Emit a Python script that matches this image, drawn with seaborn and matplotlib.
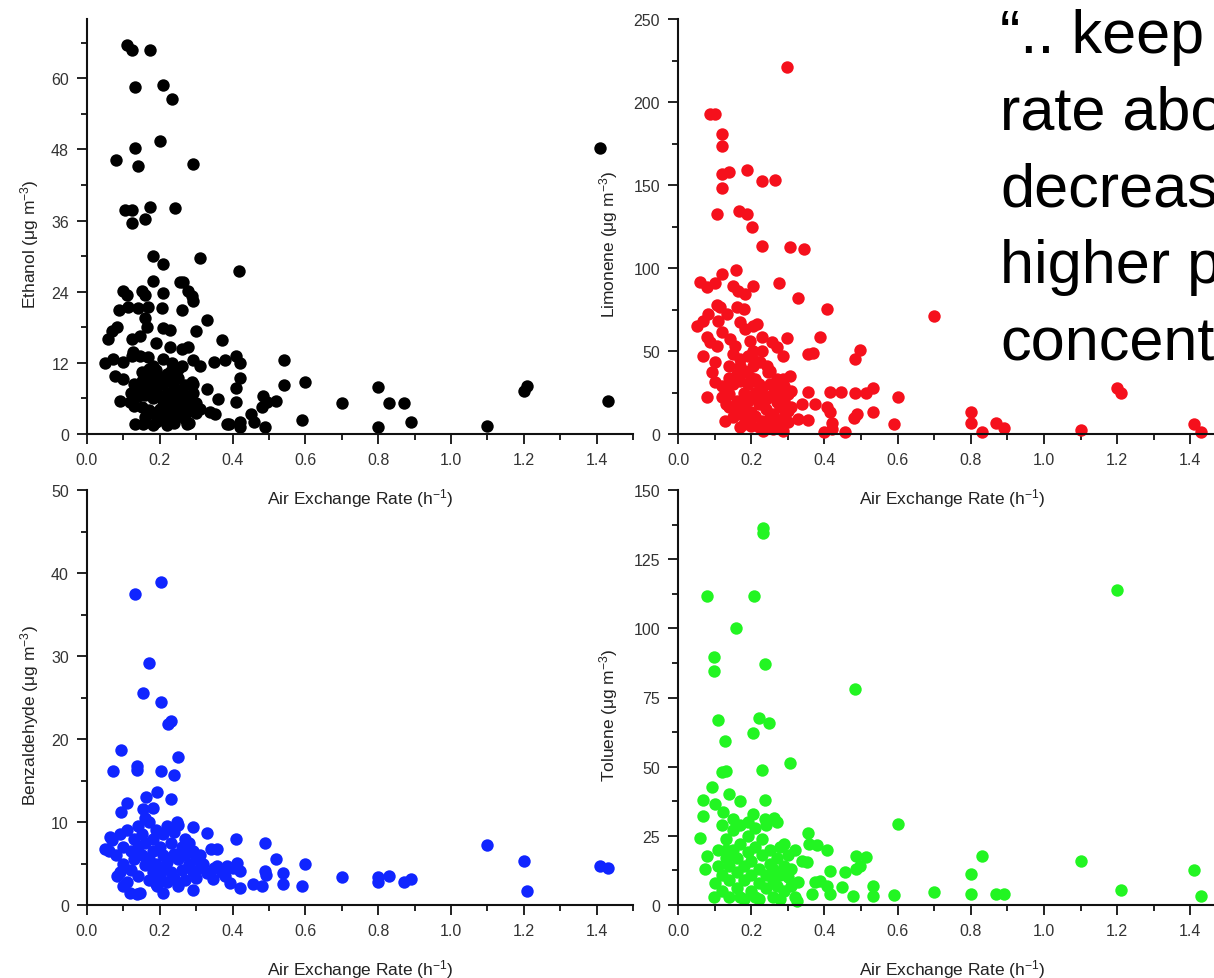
import seaborn as sns
import matplotlib.pyplot as plt
import pandas as pd
from matplotlib.ticker import MultipleLocator, FormatStrFormatter

# DATA
# homes with a high air exchange rate, same x in all four panels
far_aer = [0.59, 0.60, 0.70, 0.80, 0.80, 0.83, 0.87, 0.89, 1.10, 1.20, 1.21, 1.41, 1.43]

ethanol_far = [2.4, 8.8, 5.3, 8.0, 1.2, 5.3, 5.3, 2.1, 1.4, 7.3, 8.1, 48.3, 5.6]
limonene_far = [6.0, 22.0, 71.0, 13.0, 6.6, 1.2, 6.6, 3.6, 2.4, 28.0, 25.0, 6.0, 1.2]
benzaldehyde_far = [2.3, 4.9, 3.4, 3.4, 2.8, 3.5, 2.8, 3.1, 7.2, 5.3, 1.7, 4.7, 4.5]
toluene_far = [3.5, 29.3, 4.7, 11.2, 4.0, 17.7, 4.0, 4.0, 15.9, 113.8, 5.4, 12.7, 3.2]

# the main cloud of homes, (air exchange rate, concentration)
ethanol_pts = [
    (0.11, 65.6), (0.123, 64.7), (0.173, 64.7), (0.132, 58.6), (0.209, 58.8), (0.233, 56.5),
    (0.20, 49.5), (0.132, 48.2), (0.08, 46.2), (0.14, 45.2), (0.29, 45.6), (0.104, 37.8),
    (0.123, 37.8), (0.173, 38.3), (0.241, 38.1), (0.123, 35.6), (0.159, 36.3), (0.182, 30.0),
    (0.31, 29.7), (0.209, 28.7), (0.418, 27.5), (0.182, 25.8), (0.255, 25.6), (0.264, 25.6),
    (0.10, 24.1), (0.11, 23.4), (0.15, 24.2), (0.159, 23.4), (0.209, 23.7), (0.278, 24.1),
    (0.288, 23.2), (0.29, 22.5), (0.088, 21.0), (0.113, 21.5), (0.14, 21.3), (0.167, 21.5),
    (0.206, 21.2), (0.26, 21.0), (0.329, 19.2), (0.082, 18.1), (0.068, 17.3), (0.058, 16.1),
    (0.159, 19.5), (0.165, 18.1), (0.209, 17.8), (0.228, 17.5), (0.30, 17.3), (0.123, 16.1),
    (0.145, 16.6), (0.37, 15.9), (0.19, 15.3), (0.228, 14.7), (0.26, 14.4), (0.278, 14.7),
    (0.127, 13.9), (0.05, 11.9), (0.072, 12.7), (0.10, 12.2), (0.123, 13.2), (0.145, 13.2),
    (0.167, 13.0), (0.182, 11.5), (0.209, 12.7), (0.233, 11.9), (0.26, 11.5), (0.29, 12.4),
    (0.31, 11.4), (0.35, 12.2), (0.38, 12.5), (0.41, 13.2), (0.42, 11.9), (0.54, 12.5),
    (0.077, 9.7), (0.10, 9.3), (0.42, 9.5), (0.288, 8.8), (0.54, 8.3), (0.329, 7.6),
    (0.41, 7.8), (0.09, 5.6), (0.118, 5.4), (0.14, 6.4), (0.165, 7.1), (0.36, 5.9),
    (0.41, 5.4), (0.338, 3.7), (0.352, 3.4), (0.483, 6.4), (0.494, 5.4), (0.48, 4.6),
    (0.52, 5.6), (0.45, 3.4), (0.46, 2.0), (0.49, 1.2), (0.384, 1.7), (0.39, 1.7),
    (0.42, 2.0), (0.42, 1.2), (0.132, 1.7), (0.154, 1.7), (0.182, 1.5), (0.19, 2.0),
    (0.22, 1.5), (0.24, 1.9), (0.274, 1.7), (0.13, 8.5), (0.15, 9.0), (0.16, 8.0),
    (0.17, 9.5), (0.18, 8.2), (0.19, 10.0), (0.20, 9.0), (0.21, 8.5), (0.22, 10.2),
    (0.23, 9.0), (0.24, 8.0), (0.25, 9.4), (0.26, 7.5), (0.27, 8.3), (0.12, 7.0),
    (0.14, 7.6), (0.16, 6.5), (0.18, 6.0), (0.19, 7.2), (0.20, 6.2), (0.21, 5.5),
    (0.22, 7.0), (0.23, 6.3), (0.24, 5.2), (0.25, 6.8), (0.26, 5.0), (0.27, 6.0),
    (0.28, 5.5), (0.29, 7.0), (0.30, 5.2), (0.13, 4.8), (0.15, 4.5), (0.17, 4.0),
    (0.18, 3.5), (0.20, 4.2), (0.21, 3.0), (0.22, 4.5), (0.23, 3.4), (0.24, 2.8),
    (0.25, 4.0), (0.26, 3.0), (0.27, 2.5), (0.28, 3.8), (0.30, 3.5), (0.31, 4.2),
    (0.19, 10.8), (0.17, 11.0), (0.15, 10.5), (0.23, 10.6), (0.25, 11.0), (0.21, 2.4),
    (0.16, 2.8), (0.28, 1.9), (0.29, 8.5),
]

limonene_pts = [
    (0.297, 220.9), (0.088, 192.8), (0.101, 192.8), (0.119, 180.7), (0.119, 173.7),
    (0.119, 156.6), (0.138, 157.6), (0.188, 159.2), (0.119, 148.0), (0.229, 152.6),
    (0.265, 153.2), (0.106, 132.5), (0.168, 134.5), (0.188, 132.5), (0.202, 124.5),
    (0.229, 113.4), (0.306, 112.4), (0.345, 111.4), (0.159, 99.0), (0.119, 96.4),
    (0.06, 91.8), (0.078, 88.4), (0.101, 91.0), (0.151, 89.3), (0.165, 86.3), (0.183, 84.3),
    (0.206, 89.0), (0.277, 91.0), (0.329, 81.7), (0.407, 75.3), (0.106, 77.7), (0.115, 76.3),
    (0.16, 76.3), (0.18, 75.3), (0.051, 65.2), (0.069, 68.3), (0.083, 72.3), (0.133, 72.3),
    (0.11, 68.3), (0.119, 61.3), (0.17, 67.3), (0.183, 63.3), (0.206, 65.2), (0.215, 66.3),
    (0.078, 58.3), (0.088, 55.2), (0.106, 53.2), (0.069, 47.2), (0.142, 57.2), (0.156, 53.2),
    (0.197, 56.2), (0.206, 50.2), (0.229, 58.3), (0.256, 55.2), (0.27, 52.2), (0.288, 47.2),
    (0.297, 57.6), (0.388, 58.3), (0.356, 48.2), (0.368, 48.8), (0.484, 45.2), (0.496, 50.8),
    (0.101, 43.2), (0.092, 37.2), (0.101, 31.1), (0.138, 41.1), (0.17, 41.1), (0.188, 37.2),
    (0.206, 41.1), (0.224, 43.2), (0.242, 41.1), (0.247, 37.2), (0.306, 35.1), (0.288, 33.1),
    (0.078, 22.1), (0.356, 25.5), (0.416, 25.5), (0.445, 25.1), (0.484, 24.5), (0.514, 24.5),
    (0.534, 27.5), (0.338, 18.1), (0.375, 18.1), (0.407, 16.1), (0.416, 13.0), (0.489, 12.0),
    (0.48, 9.4), (0.534, 13.0), (0.329, 9.0), (0.356, 8.6), (0.42, 6.6), (0.42, 3.0),
    (0.457, 1.4), (0.40, 1.0), (0.128, 8.0), (0.17, 4.0), (0.233, 2.0), (0.288, 2.0),
    (0.13, 28.0), (0.15, 30.0), (0.17, 32.0), (0.19, 30.0), (0.21, 33.0), (0.23, 28.0),
    (0.25, 30.0), (0.27, 27.0), (0.29, 29.0), (0.30, 24.0), (0.12, 22.0), (0.14, 24.0),
    (0.16, 20.0), (0.18, 25.0), (0.20, 22.0), (0.22, 26.0), (0.24, 21.0), (0.26, 24.0),
    (0.28, 22.0), (0.14, 16.0), (0.16, 14.0), (0.18, 17.0), (0.20, 13.0), (0.22, 18.0),
    (0.24, 15.0), (0.26, 12.0), (0.28, 16.0), (0.30, 14.0), (0.15, 10.0), (0.17, 12.0),
    (0.19, 9.0), (0.21, 11.0), (0.23, 8.0), (0.25, 10.0), (0.27, 7.0), (0.29, 10.0),
    (0.18, 6.0), (0.20, 5.0), (0.22, 4.0), (0.24, 6.0), (0.26, 3.0), (0.28, 5.0),
    (0.30, 7.0), (0.31, 16.0), (0.31, 26.0), (0.13, 18.0), (0.16, 36.0), (0.18, 38.0),
    (0.20, 34.0), (0.22, 30.0), (0.17, 45.0), (0.19, 47.0), (0.21, 44.0), (0.23, 50.0),
    (0.15, 48.0), (0.25, 38.0), (0.27, 33.0), (0.14, 34.0), (0.12, 29.0), (0.19, 20.0),
    (0.21, 25.0), (0.23, 19.0), (0.25, 23.0), (0.27, 19.0), (0.29, 20.0),
]

benzaldehyde_pts = [
    (0.202, 38.9), (0.132, 37.5), (0.171, 29.2), (0.153, 25.6), (0.202, 24.5), (0.223, 21.8),
    (0.232, 22.2), (0.093, 18.7), (0.25, 17.8), (0.072, 16.2), (0.138, 16.7), (0.138, 16.3),
    (0.202, 16.2), (0.239, 15.7), (0.191, 13.6), (0.162, 13.0), (0.23, 12.8), (0.111, 12.3),
    (0.093, 11.2), (0.155, 11.6), (0.182, 11.7), (0.246, 10.0), (0.292, 9.4), (0.329, 8.7),
    (0.049, 6.7), (0.063, 8.2), (0.409, 7.9), (0.489, 7.5), (0.342, 6.7), (0.356, 6.7),
    (0.519, 5.5), (0.082, 3.5), (0.10, 2.3), (0.118, 1.5), (0.136, 1.3), (0.145, 1.5),
    (0.191, 2.3), (0.21, 1.5), (0.29, 1.8), (0.356, 4.7), (0.384, 4.7), (0.411, 5.1),
    (0.42, 4.1), (0.393, 2.7), (0.42, 2.1), (0.457, 2.5), (0.48, 2.3), (0.489, 4.1),
    (0.493, 3.6), (0.539, 3.9), (0.539, 2.5), (0.347, 3.1), (0.08, 6.0), (0.09, 8.5),
    (0.10, 7.0), (0.10, 5.0), (0.11, 9.0), (0.12, 6.5), (0.12, 4.2), (0.13, 8.0),
    (0.13, 5.5), (0.14, 9.5), (0.14, 7.0), (0.14, 3.5), (0.15, 6.0), (0.15, 8.5),
    (0.16, 4.8), (0.16, 7.5), (0.17, 10.0), (0.17, 5.5), (0.17, 3.0), (0.18, 8.0),
    (0.18, 6.5), (0.18, 4.0), (0.19, 9.0), (0.19, 5.0), (0.20, 7.0), (0.20, 3.5),
    (0.21, 8.5), (0.21, 6.0), (0.21, 4.5), (0.22, 9.5), (0.22, 5.2), (0.22, 2.8),
    (0.23, 7.5), (0.23, 4.0), (0.24, 8.8), (0.24, 6.2), (0.24, 3.2), (0.25, 5.5),
    (0.25, 9.6), (0.26, 7.0), (0.26, 4.2), (0.27, 6.0), (0.27, 8.0), (0.27, 3.0),
    (0.28, 5.0), (0.28, 7.5), (0.29, 4.0), (0.29, 6.5), (0.30, 5.5), (0.30, 3.2),
    (0.31, 6.0), (0.31, 4.5), (0.32, 5.0), (0.33, 3.8), (0.35, 4.5), (0.37, 4.0),
    (0.38, 3.5), (0.40, 4.5), (0.06, 6.5), (0.07, 7.8), (0.09, 4.0), (0.11, 2.8),
    (0.16, 10.5), (0.19, 2.5), (0.25, 2.3),
]

toluene_pts = [
    (0.232, 136.1), (0.232, 134.4), (0.078, 111.8), (0.208, 111.8), (0.159, 100.0),
    (0.098, 89.5), (0.098, 84.5), (0.238, 87.1), (0.484, 78.1), (0.11, 67.0), (0.22, 67.5),
    (0.249, 65.7), (0.206, 62.2), (0.129, 59.4), (0.306, 51.2), (0.119, 48.0), (0.131, 48.5),
    (0.229, 48.9), (0.092, 42.5), (0.14, 40.1), (0.069, 38.1), (0.068, 32.3), (0.17, 37.7),
    (0.238, 37.9), (0.101, 36.5), (0.122, 33.5), (0.206, 32.9), (0.238, 31.1), (0.261, 31.3),
    (0.06, 24.1), (0.356, 26.0), (0.359, 22.0), (0.379, 21.7), (0.407, 19.9), (0.08, 17.6),
    (0.487, 17.8), (0.514, 17.2), (0.338, 16.0), (0.352, 15.4), (0.416, 12.4), (0.457, 12.0),
    (0.487, 13.0), (0.498, 14.2), (0.074, 13.0), (0.375, 8.2), (0.388, 8.8), (0.366, 4.0),
    (0.448, 6.4), (0.407, 7.0), (0.416, 4.0), (0.478, 3.4), (0.534, 6.8), (0.534, 3.4),
    (0.325, 1.6), (0.097, 2.8), (0.329, 8.2), (0.10, 8.0), (0.11, 14.0), (0.11, 20.0),
    (0.12, 5.0), (0.12, 11.0), (0.13, 17.0), (0.13, 24.0), (0.14, 3.0), (0.14, 9.0),
    (0.14, 14.0), (0.15, 20.0), (0.15, 27.0), (0.16, 6.0), (0.16, 12.0), (0.16, 17.0),
    (0.17, 22.0), (0.17, 29.0), (0.18, 2.0), (0.18, 9.0), (0.18, 14.0), (0.19, 19.0),
    (0.19, 25.0), (0.20, 5.0), (0.20, 11.0), (0.20, 16.0), (0.21, 21.0), (0.21, 28.0),
    (0.22, 2.0), (0.22, 8.0), (0.22, 13.0), (0.23, 18.0), (0.23, 24.0), (0.24, 6.0),
    (0.24, 11.0), (0.25, 15.0), (0.25, 20.0), (0.26, 3.0), (0.26, 9.0), (0.26, 13.0),
    (0.27, 17.0), (0.27, 7.0), (0.28, 11.0), (0.28, 21.0), (0.28, 2.0), (0.29, 14.0),
    (0.29, 5.0), (0.30, 10.0), (0.30, 18.0), (0.31, 7.0), (0.31, 13.0), (0.32, 3.0),
    (0.12, 29.0), (0.15, 31.0), (0.19, 30.0), (0.17, 3.0), (0.21, 3.0), (0.24, 29.0),
    (0.27, 30.0), (0.29, 22.0), (0.32, 20.0), (0.13, 20.0),
]

quote_lines = ["\u201c.. keep", "rate abo", "decreas", "higher p", "concent"]


def make_df(pts, far):
    return pd.DataFrame({
        'aer': [p[0] for p in pts] + far_aer,
        'conc': [p[1] for p in pts] + far,
    })


# VISUALIZATION
sns.set_style('ticks')
plt.rcParams['font.family'] = ['Liberation Sans', 'DejaVu Sans']
plt.rcParams['mathtext.fontset'] = 'custom'
plt.rcParams['mathtext.rm'] = 'Liberation Sans'
plt.rcParams['mathtext.it'] = 'Liberation Sans:italic'

W, H = 1214, 979
fig = plt.figure(figsize=(W / 100, H / 100), dpi=100)


def px_axes(left, top, right, bottom):
    return fig.add_axes([left / W, 1 - bottom / H, (right - left) / W, (bottom - top) / H])


panels = [
    # name, data, colour, axes rect (px), ymax, major, minor, y-label x
    ('Ethanol', make_df(ethanol_pts, ethanol_far), '#000000', (87, 20, 633, 435), 70, 12, 6, -0.085),
    ('Limonene', make_df(limonene_pts, limonene_far), '#f5101c', (678, 20, 1227, 435), 250, 50, 25, -0.106),
    ('Benzaldehyde', make_df(benzaldehyde_pts, benzaldehyde_far), '#1025ff', (87, 491, 633, 906), 50, 10, 5, -0.085),
    ('Toluene', make_df(toluene_pts, toluene_far), '#22f522', (678, 491, 1227, 906), 150, 25, 12.5, -0.106),
]

for name, df, color, rect, ymax, major, minor, ylab_x in panels:
    ax = px_axes(*rect)
    ax.patch.set_alpha(0)
    sns.scatterplot(data=df, x='aer', y='conc', color=color, s=80,
                    linewidth=0, ax=ax, clip_on=False)
    ax.set_xlim(0, 1.5)
    ax.set_ylim(0, ymax)
    ax.xaxis.set_major_locator(MultipleLocator(0.2))
    ax.xaxis.set_minor_locator(MultipleLocator(0.1))
    ax.xaxis.set_major_formatter(FormatStrFormatter('%.1f'))
    ax.yaxis.set_major_locator(MultipleLocator(major))
    ax.yaxis.set_minor_locator(MultipleLocator(minor))
    ax.set_xticks([0, 0.2, 0.4, 0.6, 0.8, 1.0, 1.2, 1.4])
    ax.tick_params(which='major', direction='out', length=7, width=1.3,
                   labelsize=11.5, pad=6, colors='#111111', labelcolor='#333333')
    ax.tick_params(which='minor', direction='out', length=4, width=1.3, colors='#111111')
    sns.despine(ax=ax)
    for side in ('left', 'bottom'):
        ax.spines[side].set_linewidth(1.5)
        ax.spines[side].set_color('#111111')
    ax.set_xlabel('Air Exchange Rate (h$^{-1}$)', fontsize=12.5, color='#222222')
    ax.set_ylabel(name + ' (\u03bcg m$^{-3}$)', fontsize=12.5, color='#222222')
    ax.xaxis.set_label_coords(0.5, -0.125)
    ax.yaxis.set_label_coords(ylab_x, 0.46)

fig.text(1000 / W, 1 - 9 / H, '\n'.join(quote_lines), fontsize=44,
         ha='left', va='top', linespacing=1.45, color='black')

plt.savefig('out.png', dpi=100)
